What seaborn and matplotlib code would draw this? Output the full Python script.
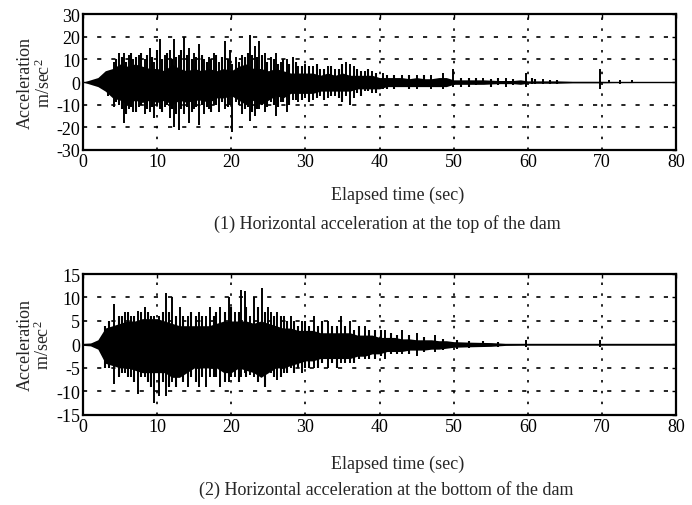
import numpy as np
import pandas as pd
import matplotlib
matplotlib.use("Agg")
import matplotlib.pyplot as plt
import seaborn as sns

# ---------------- data ----------------
# Top of dam: dense core envelope (per second) and individual spikes
top_core_t  = [0, 1, 2, 3, 4, 5, 6, 7, 8, 9, 10, 11, 12, 13, 14, 15, 16, 17, 18, 19,
               20, 21, 22, 23, 24, 25, 26, 27, 28, 29, 30, 31, 32, 33, 34, 35, 36, 37, 38, 39,
               40, 41, 42, 43, 44, 45, 46, 47, 48, 49, 50, 52, 54, 56, 58, 59, 60, 62, 64, 66,
               68, 70, 72, 74, 76, 78, 80]
top_core_hi = [0, 1, 2, 5, 6, 8, 7, 8, 7, 6, 6, 5, 8, 6, 5, 6, 5, 6, 5, 6,
               5, 7, 8, 6, 6, 5, 6, 5, 4, 4, 4, 4, 3, 4, 3, 4, 3, 3, 3, 3,
               2, 2, 2, 2, 1.5, 2, 1.5, 1.5, 2, 2, 1, 1, 1, 0.7, 0.7, 1, 0.5, 0.5, 0.5, 0.3,
               0.3, 0.3, 0.2, 0.2, 0.1, 0.1, 0.1]
top_core_lo = [0, -1, -2, -4, -7, -8, -10, -8, -9, -8, -9, -8, -10, -8, -9, -8, -8, -9, -7, -7,
               -6, -8, -10, -8, -10, -8, -6, -7, -5, -5, -5, -5, -4, -4, -4, -4, -4, -3, -3, -3,
               -3, -2, -2, -2, -2, -2, -2, -2, -2, -2, -1, -1, -1, -0.7, -0.7, -1, -0.5, -0.5, -0.5, -0.3,
               -0.3, -0.3, -0.2, -0.2, -0.1, -0.1, -0.1]
# large spikes
top_spike_t  = [3.3, 4.2, 4.8, 5.5, 6.2, 6.8, 7.5, 8.3, 9.0, 9.6, 10.4, 11.0, 11.7, 12.3, 12.9,
                13.6, 14.3, 15.0, 15.6, 16.3, 17.0, 17.6, 18.3, 19.2, 19.8, 20.1, 20.7, 21.5, 22.5,
                23.2, 23.8, 24.5, 25.3, 26.0, 26.7, 27.5, 28.3, 29.0, 30.0, 31.0, 32.0, 33.0, 34.0,
                35.5, 36.0, 36.5, 38.0, 39.0, 40.5, 43.0, 45.0, 47.0, 48.5, 49.9, 54.0, 57.0, 59.8,
                62.0, 69.8, 71.0, 72.5, 74.0]
top_spike_hi = [5, 9, 13, 13, 12, 10, 12, 10, 15, 9, 19, 12, 14, 19, 12,
                20, 15, 13, 17, 10, 11, 13, 9, 18, 14, 8, 11, 12, 21,
                16, 18, 13, 11, 13, 9, 10, 11, 7, 8, 7, 6, 7, 6,
                9, 8, 7, 5, 5, 4, 3, 3, 3, 4, 6, 2, 2, 4,
                1.5, 6, 1, 1, 1]
top_spike_lo = [-6, -11, -10, -18, -12, -13, -11, -14, -13, -16, -12, -11, -16, -20, -21,
                -14, -18, -12, -19, -14, -12, -10, -13, -12, -10, -22, -9, -14, -17,
                -15, -12, -13, -9, -15, -9, -13, -8, -9, -7, -8, -6, -7, -6,
                -6, -10, -7, -4, -5, -3, -2, -3, -3, -3, -2, -1, -2, -2,
                -1, -3, -0.5, -1, -0.5]
# medium spikes
top_mid_t  = [4.5, 5.2, 5.8, 6.5, 7.2, 7.8, 8.6, 9.3, 10.0, 10.7, 11.3, 12.0, 12.6, 13.2, 14.0,
              14.7, 15.3, 16.0, 16.7, 17.3, 18.0, 18.7, 19.5, 21.0, 21.8, 22.2, 22.8, 23.5, 24.2,
              24.8, 25.7, 26.3, 27.0, 27.8, 28.7, 29.5, 30.5, 31.5, 32.5, 33.5, 34.5, 35.0, 37.0,
              37.5, 38.5, 39.5, 41.0, 42.0, 44.0, 46.0, 51.0, 52.0, 53.0, 55.0, 56.0, 58.0, 60.5,
              61.0, 63.0, 64.0]
top_mid_hi = [10, 11, 9, 13, 11, 13, 12, 11, 14, 10, 13, 10, 11, 14, 12,
              10, 11, 12, 9, 10, 12, 11, 10, 9, 11, 13, 12, 11, 12,
              9, 10, 8, 10, 8, 9, 7, 7, 8, 6, 7, 6, 8, 6,
              5, 6, 4, 3, 3, 3, 3, 2, 2, 2, 1.5, 2, 1.5, 2,
              1.5, 1, 1]
top_mid_lo = [-9, -12, -14, -11, -13, -10, -12, -11, -10, -13, -10, -12, -14, -12, -11,
              -13, -11, -10, -11, -13, -10, -9, -11, -10, -12, -11, -13, -12, -10,
              -11, -10, -11, -9, -10, -8, -8, -9, -7, -8, -6, -7, -9, -5,
              -6, -4, -5, -3, -3, -3, -2, -2, -2, -1.5, -2, -1.5, -1.5, -1,
              -1, -1, -1]

# Bottom of dam
bot_core_t  = [0, 1, 2, 3, 4, 5, 6, 7, 8, 9, 10, 11, 12, 13, 14, 15, 16, 17, 18, 19,
               20, 21, 22, 23, 24, 25, 26, 27, 28, 29, 30, 31, 32, 33, 34, 35, 36, 37, 38, 39,
               40, 41, 42, 43, 44, 45, 46, 47, 48, 49, 50, 52, 55, 57, 60, 65, 70, 75, 80]
bot_core_hi = [0.2, 0.3, 1, 3.5, 4, 4.5, 5, 5, 5.5, 5.5, 5.5, 5, 4.5, 4, 4, 4, 4, 4, 4.5, 5,
               5, 5, 5, 4.5, 5, 4.5, 4, 3.5, 3.5, 3, 3, 3, 2.5, 2.5, 2.5, 2.5, 2.5, 2, 2, 2,
               1.5, 1.5, 1.5, 1.2, 1.2, 1, 1, 1, 0.8, 0.8, 0.6, 0.5, 0.4, 0.2, 0.15, 0.15, 0.15, 0.15, 0.15]
bot_core_lo = [-0.2, -0.3, -1, -4, -4.5, -5, -5, -5.5, -6, -6, -6, -6, -7, -7, -6, -5, -5, -5, -5, -6,
               -6, -5, -5.5, -6, -7, -6, -5, -5, -4.5, -4, -3.5, -3.5, -3, -3, -3, -3, -3, -2.5, -2.5, -2,
               -2, -1.5, -1.5, -1.5, -1.2, -1.2, -1.2, -1, -1, -0.8, -0.6, -0.5, -0.4, -0.2, -0.15, -0.15, -0.15, -0.15, -0.15]
bot_spike_t  = [4.2, 5.7, 6.5, 7.4, 8.3, 9.6, 10.3, 11.2, 12.0, 13.1, 14.1, 15.7, 16.6, 17.1,
                18.5, 19.7, 20.5, 21.3, 21.8, 22.5, 23.1, 24.2, 24.9, 25.3, 26.2, 27.1, 28.0,
                29.6, 31.1, 33.0, 34.8, 36.0, 38.0, 40.8, 43.0, 45.0, 47.5, 59.8, 69.8]
bot_spike_hi = [8.6, 7, 6, 7.2, 8, 6, 6, 11, 10, 8, 6, 7, 6, 8,
                8, 10, 7, 11.5, 11.4, 6, 10, 12, 8, 7, 7, 6, 6,
                5, 6, 5, 6, 5, 4, 3, 3, 2.5, 2, 1, 1]
bot_spike_lo = [-8.5, -6, -7, -10.5, -7, -12.4, -11, -11, -8, -7, -9, -9, -9, -7,
                -9, -8, -7, -7, -6, -6.6, -7, -7, -6, -6, -7.5, -6, -5,
                -6, -5, -5, -4, -4, -3, -3, -2, -2.5, -1.5, -0.5, -0.5]
bot_mid_t  = [3.0, 3.5, 4.8, 5.3, 6.0, 6.9, 7.8, 8.8, 9.2, 10.8, 11.6, 12.5, 13.5, 14.6,
              15.2, 16.1, 17.6, 18.0, 19.2, 20.0, 21.0, 22.0, 23.6, 24.5, 25.8, 26.7, 27.5,
              28.5, 29.0, 30.0, 30.5, 31.7, 32.3, 33.6, 34.2, 35.4, 36.6, 37.2, 38.6, 39.4,
              40.2, 41.5, 42.3, 44.0, 46.0, 48.5, 50.5, 52.0, 54.0, 56.0]
bot_mid_hi = [4, 5, 6, 6, 7, 6, 7, 7, 6, 7, 7, 6, 6, 7,
              6, 6, 6, 7, 7, 8, 7, 8, 8, 7, 6, 6, 5,
              5, 4, 5, 4, 4, 5, 4, 4, 4, 3, 4, 3, 3,
              3, 2.5, 2, 2, 1.5, 1.2, 1, 0.8, 0.7, 0.5]
bot_mid_lo = [-5, -5, -7, -6, -7, -8, -7, -8, -9, -8, -9, -9, -8, -7,
              -8, -7, -7, -7, -8, -7, -8, -7, -8, -9, -7, -7, -6,
              -6, -5, -5, -5, -5, -4, -4, -5, -4, -4, -3, -3, -3,
              -2.5, -2, -2, -2, -1.5, -1.2, -1, -0.8, -0.6, -0.5]

x_ticks = [0, 10, 20, 30, 40, 50, 60, 70, 80]
top_yticks = [-30, -20, -10, 0, 10, 20, 30]
bot_yticks = [-15, -10, -5, 0, 5, 10, 15]
xlabel = "Elapsed time (sec)"
ylabel = "Acceleration\nm/sec$^2$"
cap_top = "(1) Horizontal acceleration at the top of the dam"
cap_bot = "(2) Horizontal acceleration at the bottom of the dam"

# ---------------- style ----------------
sns.set_theme(style="white")
plt.rcParams["font.family"] = ["Liberation Serif", "DejaVu Serif"]
plt.rcParams["mathtext.fontset"] = "custom"
plt.rcParams["mathtext.rm"] = "Liberation Serif"
plt.rcParams["mathtext.it"] = "Liberation Serif:italic"
FS = 13

fig = plt.figure(figsize=(6.92, 5.06), dpi=100)
ax1 = fig.add_axes([0.120, 0.7016, 0.857, 0.2684])
ax2 = fig.add_axes([0.120, 0.178, 0.857, 0.2785])


def draw(ax, ct, chi, clo, st, shi, slo, mt, mhi, mlo, yticks):
    core = pd.DataFrame({"t": ct, "hi": chi, "lo": clo})
    ax.fill_between(core["t"], core["lo"], core["hi"], color="black", lw=0, zorder=3)
    sns.lineplot(x=[0, 80], y=[0, 0], ax=ax, color="black", lw=1.0, zorder=4)
    ax.vlines(mt, mlo, mhi, color="black", lw=1.5, zorder=4)
    ax.vlines(st, slo, shi, color="black", lw=1.4, zorder=4)
    ax.set_xlim(0, 80)
    ax.set_ylim(yticks[0], yticks[-1])
    ax.set_xticks(x_ticks)
    ax.set_yticks(yticks)
    ax.set_xticklabels([str(v) for v in x_ticks], fontsize=FS)
    ax.set_yticklabels([str(v) for v in yticks], fontsize=FS)
    ax.tick_params(direction="in", length=3, width=1, top=True, right=True,
                   pad=2, colors="black")
    for v in x_ticks[1:-1]:
        ax.axvline(v, color="black", lw=1.2, ls=(0, (1.5, 5)), zorder=1)
    for v in yticks[1:-1]:
        if v != 0:
            ax.axhline(v, color="black", lw=1.2, ls=(0, (2.5, 6)), zorder=1)
    for s in ax.spines.values():
        s.set_visible(True)
        s.set_color("black")
        s.set_linewidth(1.6)
    ax.set_xlabel("")
    ax.set_ylabel(ylabel, fontsize=FS, linespacing=1.0, labelpad=2)


draw(ax1, top_core_t, top_core_hi, top_core_lo, top_spike_t, top_spike_hi, top_spike_lo,
     top_mid_t, top_mid_hi, top_mid_lo, top_yticks)
draw(ax2, bot_core_t, bot_core_hi, bot_core_lo, bot_spike_t, bot_spike_hi, bot_spike_lo,
     bot_mid_t, bot_mid_hi, bot_mid_lo, bot_yticks)

fig.text(398 / 692, 1 - 195 / 506, xlabel, ha="center", va="center", fontsize=FS)
fig.text(387 / 692, 1 - 224 / 506, cap_top, ha="center", va="center", fontsize=FS)
fig.text(398 / 692, 1 - 464 / 506, xlabel, ha="center", va="center", fontsize=FS)
fig.text(386 / 692, 1 - 490 / 506, cap_bot, ha="center", va="center", fontsize=FS)

fig.savefig("out.png", dpi=100)
